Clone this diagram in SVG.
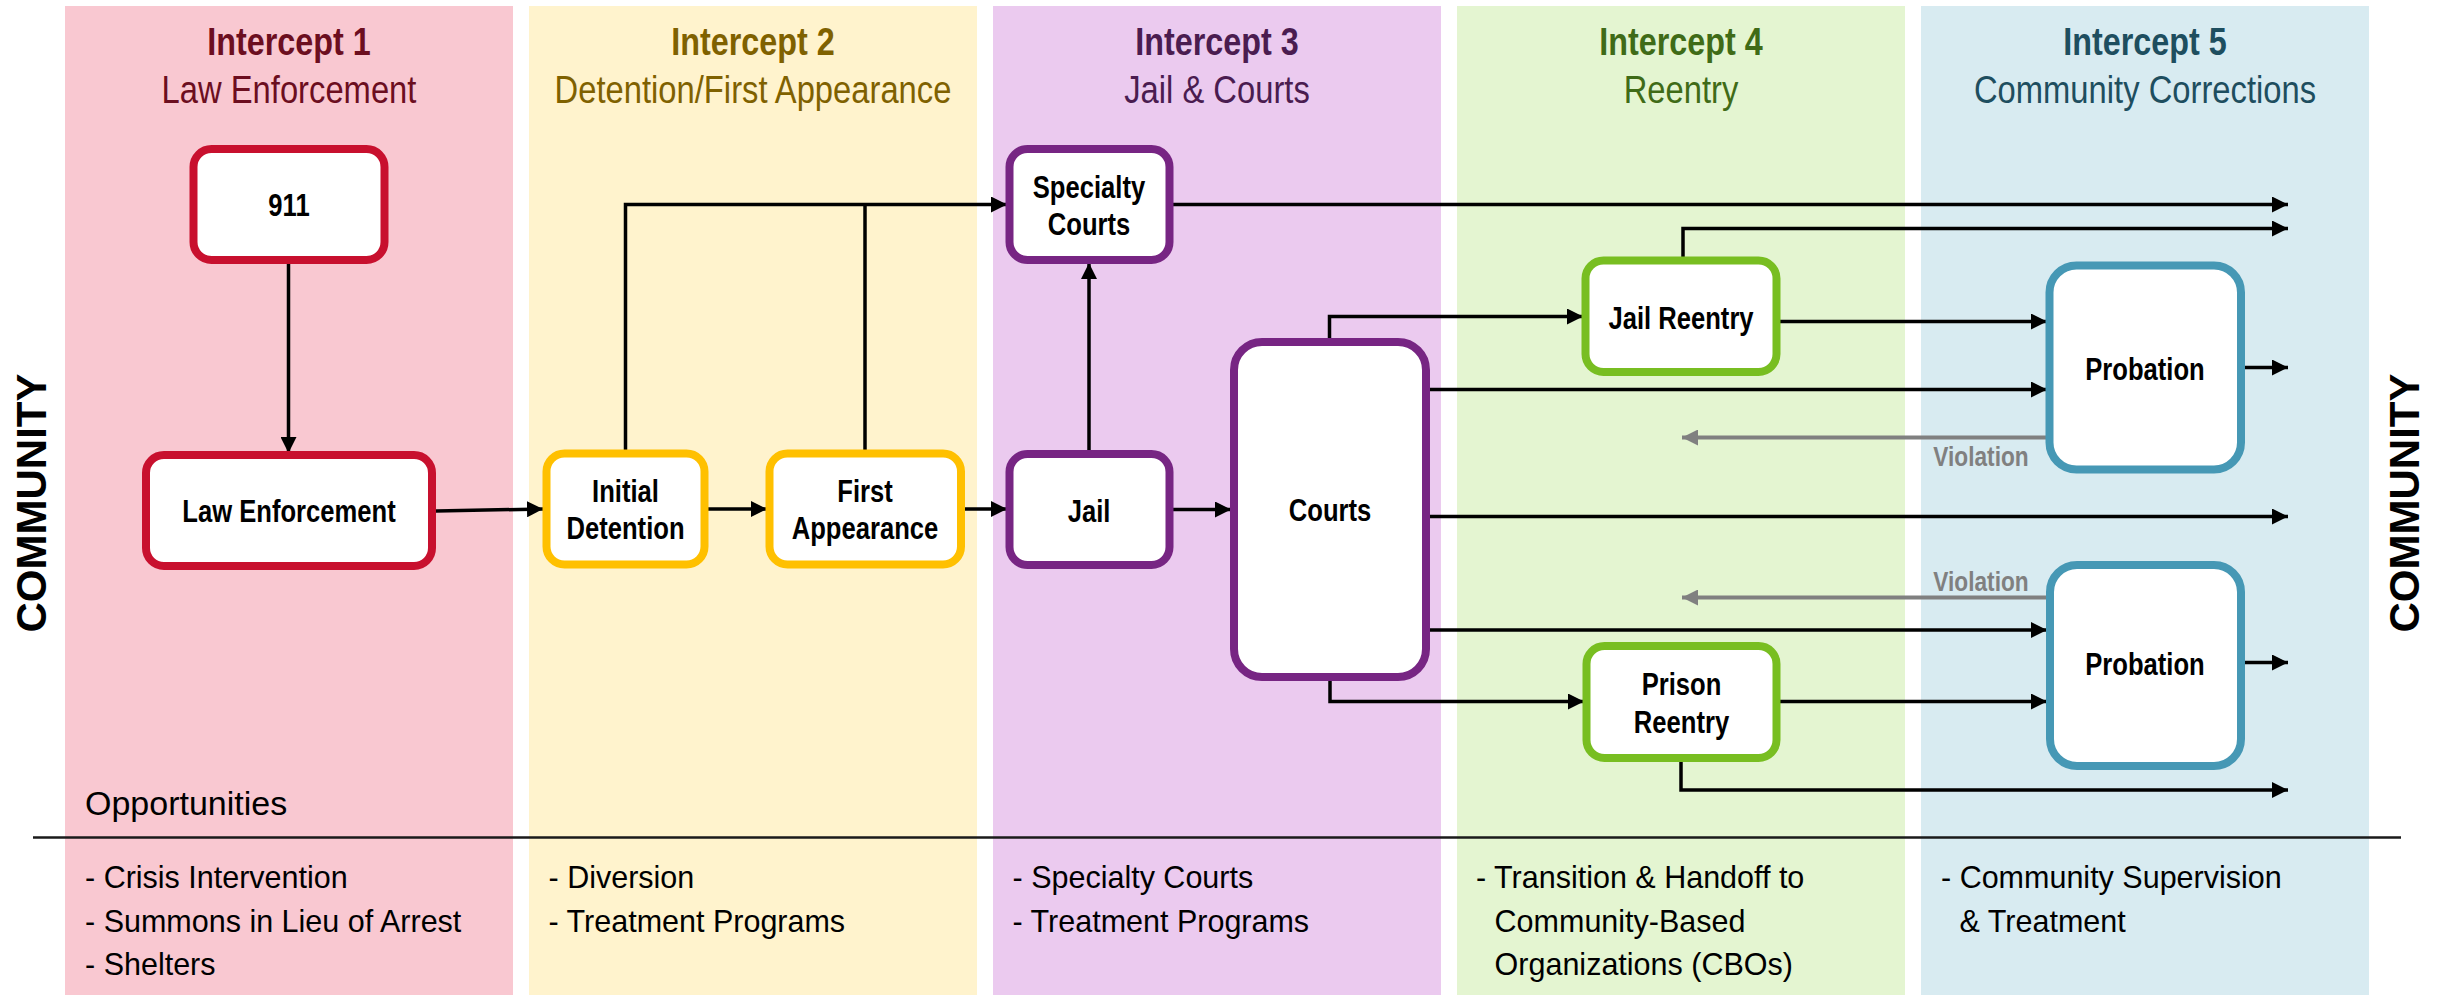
<svg xmlns="http://www.w3.org/2000/svg" width="2440" height="995" viewBox="0 0 2440 995">
<style>
.n{fill:#fff;stroke-width:8}
.red{stroke:#C8102E}.gold{stroke:#FFC000}.pur{stroke:#772583}.grn{stroke:#78BE21}.blu{stroke:#4698B5}
.lbl{font-family:"Liberation Sans",Arial,sans-serif;font-weight:bold;font-size:30.5px;fill:#000;text-anchor:middle}
.ti{font-family:"Liberation Sans",Arial,sans-serif;font-weight:bold;font-size:38.5px;text-anchor:middle}
.st{font-family:"Liberation Sans",Arial,sans-serif;font-size:39px;text-anchor:middle}
.bul{font-family:"Liberation Sans",Arial,sans-serif;font-size:30.5px;fill:#000}
.vio{font-family:"Liberation Sans",Arial,sans-serif;font-weight:bold;font-size:27px;fill:#808080;text-anchor:middle}
.com{font-family:"Liberation Sans",Arial,sans-serif;font-weight:bold;font-size:42px;fill:#000;text-anchor:middle}
.c{fill:none;stroke:#000;stroke-width:3.5}
.g{fill:none;stroke:#808080;stroke-width:4}
</style>
<defs>
<marker id="ah" markerUnits="userSpaceOnUse" markerWidth="16" markerHeight="16" refX="16" refY="8" orient="auto"><path d="M0,0 L16,8 L0,16 z" fill="#000"/></marker>
<marker id="ahg" markerUnits="userSpaceOnUse" markerWidth="16" markerHeight="16" refX="16" refY="8" orient="auto"><path d="M0,0 L16,8 L0,16 z" fill="#808080"/></marker>
</defs>
<rect width="2440" height="995" fill="#fff"/>
<g id="columns">
<rect x="65" y="6" width="448" height="989" fill="#F9C8D1"/>
<rect x="529" y="6" width="448" height="989" fill="#FFF3CD"/>
<rect x="993" y="6" width="448" height="989" fill="#EBCAEF"/>
<rect x="1457" y="6" width="448" height="989" fill="#E4F5D1"/>
<rect x="1921" y="6" width="448" height="989" fill="#D8EBF1"/>
</g>
<g id="titles">
<text class="ti" fill="#6C0E1F" transform="translate(289 55) scale(0.84 1)">Intercept 1</text>
<text class="st" fill="#6C0E1F" transform="translate(289 103) scale(0.84 1)">Law Enforcement</text>
<text class="ti" fill="#7F6100" transform="translate(753 55) scale(0.84 1)">Intercept 2</text>
<text class="st" fill="#7F6100" transform="translate(753 103) scale(0.84 1)">Detention/First Appearance</text>
<text class="ti" fill="#4A1C50" transform="translate(1217 55) scale(0.84 1)">Intercept 3</text>
<text class="st" fill="#4A1C50" transform="translate(1217 103) scale(0.84 1)">Jail &amp; Courts</text>
<text class="ti" fill="#3F6B17" transform="translate(1681 55) scale(0.84 1)">Intercept 4</text>
<text class="st" fill="#3F6B17" transform="translate(1681 103) scale(0.84 1)">Reentry</text>
<text class="ti" fill="#1E4E5F" transform="translate(2145 55) scale(0.84 1)">Intercept 5</text>
<text class="st" fill="#1E4E5F" transform="translate(2145 103) scale(0.84 1)">Community Corrections</text>
</g>
<g id="community">
<text class="com" transform="translate(46 503) rotate(-90)">COMMUNITY</text>
<text class="com" transform="translate(2419 503) rotate(-90)">COMMUNITY</text>
</g>
<g id="connectors">
<path class="c" marker-end="url(#ah)" d="M288.5,264 V453"/>
<path class="c" marker-end="url(#ah)" d="M436,511 L543,509"/>
<path class="c" marker-end="url(#ah)" d="M705,509 H767"/>
<path class="c" marker-end="url(#ah)" d="M962,509 H1007"/>
<path class="c" marker-end="url(#ah)" d="M625.5,453 V204.5 H1007"/>
<path class="c" d="M865,453 V204.5"/>
<path class="c" marker-end="url(#ah)" d="M1089,454 V263"/>
<path class="c" marker-end="url(#ah)" d="M1170,509.5 H1231"/>
<path class="c" marker-end="url(#ah)" d="M1170,204.5 H2288"/>
<path class="c" marker-end="url(#ah)" d="M1329.5,341 V316.5 H1583"/>
<path class="c" marker-end="url(#ah)" d="M1683,260 V228.5 H2288"/>
<path class="c" marker-end="url(#ah)" d="M1777,321.5 H2047"/>
<path class="c" marker-end="url(#ah)" d="M1426,389.5 H2047"/>
<path class="c" marker-end="url(#ah)" d="M2242,367.5 H2288"/>
<path class="g" marker-end="url(#ahg)" d="M2046,437.5 H1682"/>
<path class="c" marker-end="url(#ah)" d="M1426,516.5 H2288"/>
<path class="g" marker-end="url(#ahg)" d="M2046,597.5 H1682"/>
<path class="c" marker-end="url(#ah)" d="M1426,630 H2047"/>
<path class="c" marker-end="url(#ah)" d="M1330,677 V701.5 H1584"/>
<path class="c" marker-end="url(#ah)" d="M1777,701.5 H2047"/>
<path class="c" marker-end="url(#ah)" d="M2242,662.5 H2288"/>
<path class="c" marker-end="url(#ah)" d="M1681,758 V790 H2288"/>
<text class="vio" transform="translate(1981 465.5) scale(0.84 1)">Violation</text>
<text class="vio" transform="translate(1981 590.5) scale(0.84 1)">Violation</text>
</g>
<g id="n911"><rect class="n red" x="193.5" y="149" width="191" height="111" rx="18"/><text class="lbl" transform="translate(289 216) scale(0.84 1)">911</text></g>
<g id="nLE"><rect class="n red" x="146" y="455" width="286" height="111" rx="18"/><text class="lbl" transform="translate(289 522) scale(0.84 1)">Law Enforcement</text></g>
<g id="nID"><rect class="n gold" x="546.5" y="453.5" width="158" height="111" rx="18"/><text class="lbl" transform="translate(625.5 501.5) scale(0.84 1)">Initial</text><text class="lbl" transform="translate(625.5 539) scale(0.84 1)">Detention</text></g>
<g id="nFA"><rect class="n gold" x="769.5" y="453.5" width="191.5" height="111" rx="18"/><text class="lbl" transform="translate(865 501.5) scale(0.84 1)">First</text><text class="lbl" transform="translate(865 539) scale(0.84 1)">Appearance</text></g>
<g id="nSC"><rect class="n pur" x="1009.5" y="149" width="160" height="111" rx="18"/><text class="lbl" transform="translate(1089 197.5) scale(0.84 1)">Specialty</text><text class="lbl" transform="translate(1089 235) scale(0.84 1)">Courts</text></g>
<g id="nJail"><rect class="n pur" x="1009.5" y="454" width="160" height="111" rx="18"/><text class="lbl" transform="translate(1089 521.5) scale(0.84 1)">Jail</text></g>
<g id="nCourts"><rect class="n pur" x="1234" y="342" width="192" height="335" rx="28"/><text class="lbl" transform="translate(1330 521) scale(0.84 1)">Courts</text></g>
<g id="nJR"><rect class="n grn" x="1585.5" y="260.5" width="191" height="111.5" rx="18"/><text class="lbl" transform="translate(1681 328.5) scale(0.84 1)">Jail Reentry</text></g>
<g id="nPR"><rect class="n grn" x="1586.5" y="646" width="190" height="112" rx="18"/><text class="lbl" transform="translate(1681.5 695) scale(0.84 1)">Prison</text><text class="lbl" transform="translate(1681.5 732.5) scale(0.84 1)">Reentry</text></g>
<g id="nP1"><rect class="n blu" x="2049.5" y="265.5" width="191.5" height="204" rx="27"/><text class="lbl" transform="translate(2145 380) scale(0.84 1)">Probation</text></g>
<g id="nP2"><rect class="n blu" x="2050" y="565" width="191" height="201" rx="27"/><text class="lbl" transform="translate(2145 674.5) scale(0.84 1)">Probation</text></g>
<g id="opportunities">
<path d="M33,837.5 H2401" stroke="#1a1a1a" stroke-width="2.5"/>
<text class="bul" x="85" y="815" style="font-size:34px">Opportunities</text>
<text class="bul" x="85" y="887.5">- Crisis Intervention</text>
<text class="bul" x="85" y="931.5">- Summons in Lieu of Arrest</text>
<text class="bul" x="85" y="975">- Shelters</text>
<text class="bul" x="548.5" y="887.5">- Diversion</text>
<text class="bul" x="548.5" y="931.5">- Treatment Programs</text>
<text class="bul" x="1012.5" y="887.5">- Specialty Courts</text>
<text class="bul" x="1012.5" y="931.5">- Treatment Programs</text>
<text class="bul" x="1476" y="887.5">- Transition &amp; Handoff to</text>
<text class="bul" x="1494.6" y="931.5">Community-Based</text>
<text class="bul" x="1494.6" y="975">Organizations (CBOs)</text>
<text class="bul" x="1941" y="887.5">- Community Supervision</text>
<text class="bul" x="1959.6" y="931.5">&amp; Treatment</text>
</g>
</svg>
